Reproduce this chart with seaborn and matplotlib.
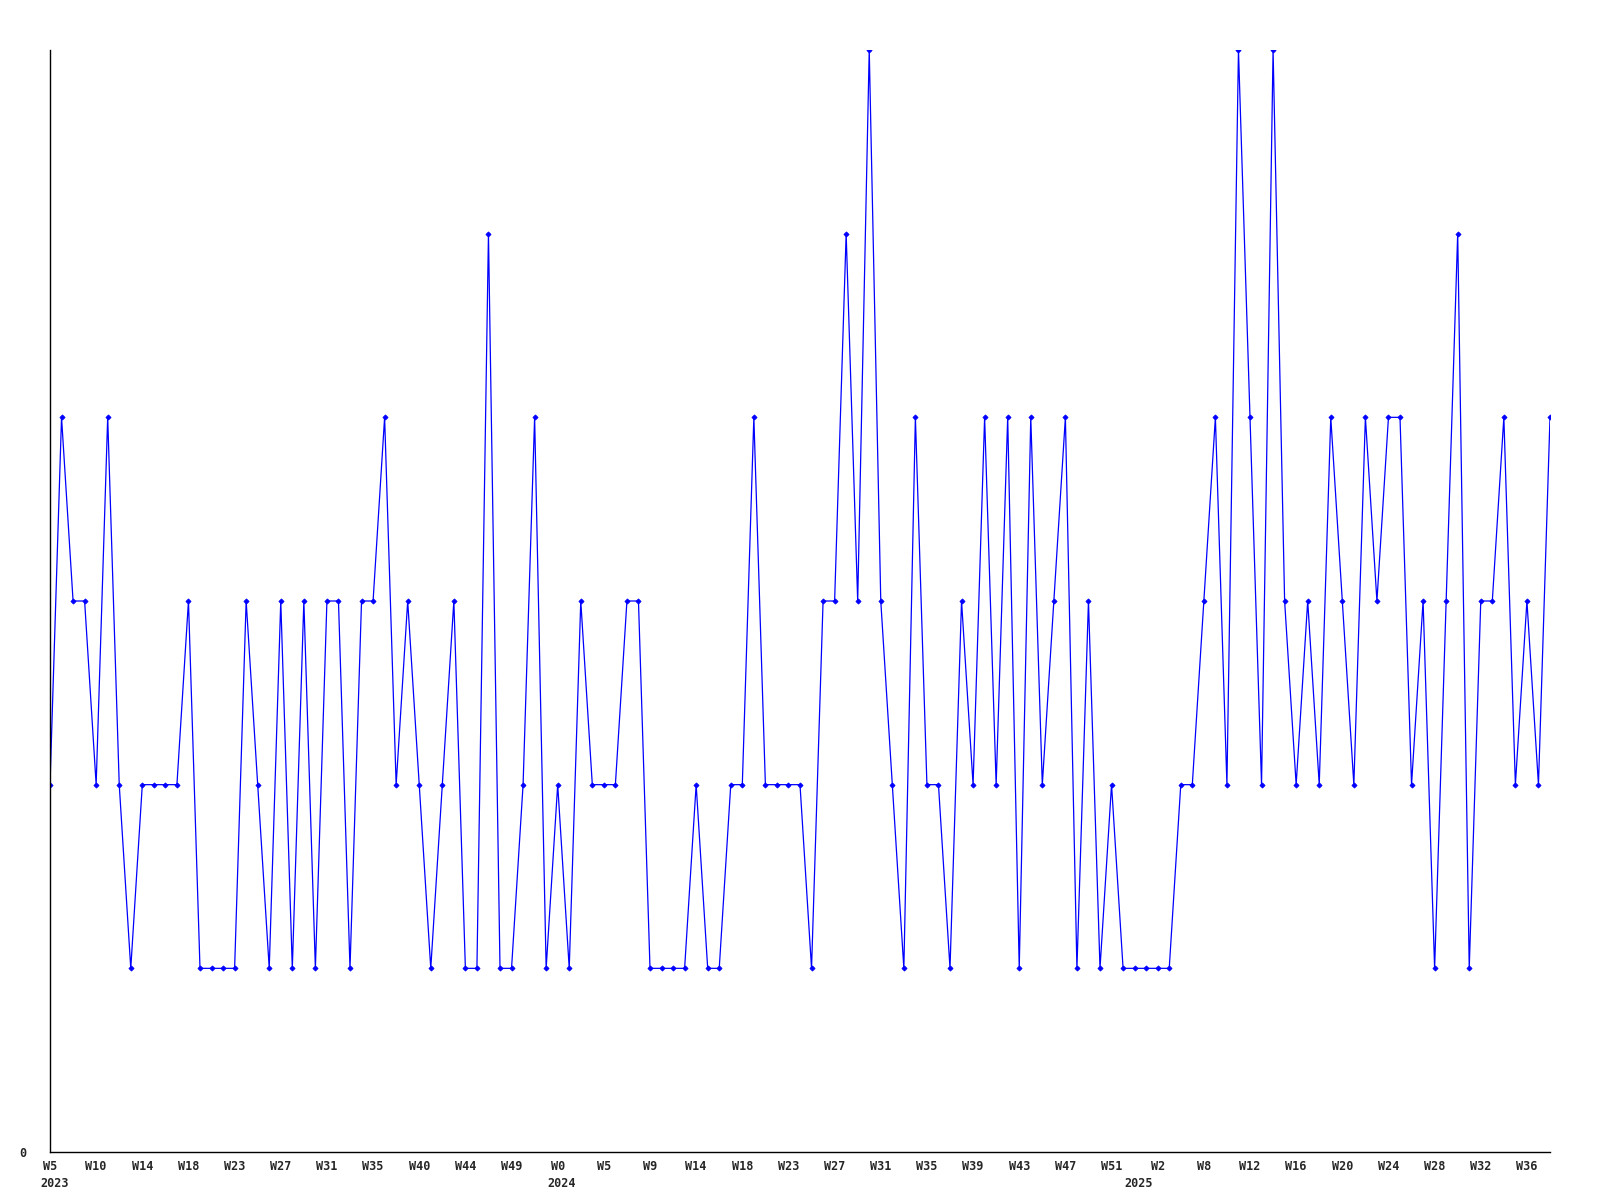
import pandas as pd
import matplotlib.pyplot as plt
import matplotlib.transforms as mtransforms
import seaborn as sns

# weekly counts
counts = [2, 4, 3, 3, 2, 4, 2, 1, 2, 2, 2, 2, 3, 1, 1, 1, 1, 3, 2, 1,
          3, 1, 3, 1, 3, 3, 1, 3, 3, 4, 2, 3, 2, 1, 2, 3, 1, 1, 5, 1,
          1, 2, 4, 1, 2, 1, 3, 2, 2, 2, 3, 3, 1, 1, 1, 1, 2, 1, 1, 2,
          2, 4, 2, 2, 2, 2, 1, 3, 3, 5, 3, 6, 3, 2, 1, 4, 2, 2, 1, 3,
          2, 4, 2, 4, 1, 4, 2, 3, 4, 1, 3, 1, 2, 1, 1, 1, 1, 1, 2, 2,
          3, 4, 2, 6, 4, 2, 6, 3, 2, 3, 2, 4, 3, 2, 4, 3, 4, 4, 2, 3,
          1, 3, 5, 1, 3, 3, 4, 2, 3, 2, 4]

# one week label every 4th point
week_labels = ["W5", "W10", "W14", "W18", "W23", "W27", "W31", "W35", "W40",
               "W44", "W49", "W0", "W5", "W9", "W14", "W18", "W23", "W27",
               "W31", "W35", "W39", "W43", "W47", "W51", "W2", "W8", "W12",
               "W16", "W20", "W24", "W28", "W32", "W36"]
year_labels = ["2023", "2024", "2025"]
year_points = [0, 44, 94]

df = pd.DataFrame({"point": range(len(counts)), "count": counts})

sns.set_style("white")
plt.rcParams["font.family"] = ["DejaVu Sans Mono"]

fig = plt.figure(figsize=(16, 12), dpi=100)
ax = fig.add_axes([50 / 1600, 48 / 1200, 1500 / 1600, 1102 / 1200])

sns.lineplot(data=df, x="point", y="count", ax=ax, color="#0000ff",
             linewidth=0.9, marker="D", markersize=2.6, markeredgewidth=0.6,
             markeredgecolor="#0000ff")

ax.set_xlim(0, len(counts) - 1)
ax.set_ylim(0, 6)
ax.set_xlabel("")
ax.set_ylabel("")

# keep year labels even where they sit on a week tick
ax.xaxis.remove_overlapping_locs = False
ax.set_xticks(range(0, 4 * len(week_labels), 4), week_labels)
ax.set_xticks(year_points, year_labels, minor=True)
ax.set_yticks([0], ["0"])
ax.tick_params(axis="x", which="major", length=0, pad=6, labelsize=8.5)
ax.tick_params(axis="x", which="minor", length=0, pad=18, labelsize=8.5)
ax.tick_params(axis="y", length=0, pad=17, labelsize=8.5)
for lbl in ax.get_xticklabels(minor=False) + ax.get_xticklabels(minor=True) + ax.get_yticklabels():
    lbl.set_fontweight("bold")

# year labels start a little left of their point
shift = mtransforms.ScaledTranslation(-10 / 100, 0, fig.dpi_scale_trans)
for lbl in ax.get_xticklabels(minor=True):
    lbl.set_horizontalalignment("left")
    lbl.set_transform(lbl.get_transform() + shift)

sns.despine(ax=ax)
ax.spines["left"].set_color("black")
ax.spines["bottom"].set_color("black")
ax.spines["left"].set_linewidth(1)
ax.spines["bottom"].set_linewidth(1)

plt.savefig("out.png", dpi=100)
